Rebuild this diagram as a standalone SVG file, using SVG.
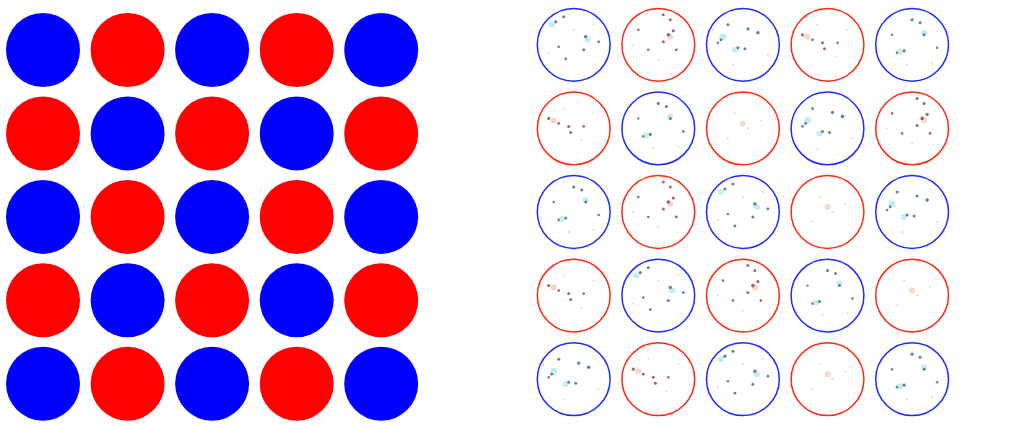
<svg xmlns="http://www.w3.org/2000/svg" width="1011" height="426" viewBox="0 0 1011 426">
<defs>
<style>
.fb{fill:#0000ff}
.fr{fill:#ff0000}
.ob{fill:none;stroke:#1a2cff;stroke-width:1.5}
.or{fill:none;stroke:#ff2a10;stroke-width:1.5}
.dt{fill:#2b5f6b;opacity:.75}
.ct{fill:#6fd3df;opacity:.4}
.dr{fill:#7a2a2a;opacity:.7}
.lr{fill:#e4a07a;opacity:.4}
.gs{fill:#8a9a9a;opacity:.35}
</style>
<g id="spB1">
<circle class="ct" cx="-22" cy="-20" r="3"/><circle class="dt" cx="-18" cy="-23" r="1.6"/><circle class="dt" cx="-10" cy="-28" r="1.5"/>
<circle class="dt" cx="12" cy="-8" r="1.8"/><circle class="ct" cx="14" cy="-5" r="3"/><circle class="dt" cx="25" cy="-3" r="1.4"/>
<circle class="dt" cx="-15" cy="2" r="1.3"/><circle class="dt" cx="10" cy="5" r="1.5"/><circle class="dt" cx="-8" cy="14" r="1.4"/>
<circle class="gs" cx="0" cy="-15" r="1"/><circle class="gs" cx="-25" cy="8" r="1"/><circle class="gs" cx="20" cy="-20" r="1"/>
</g>
<g id="spB2">
<circle class="dt" cx="-15" cy="-20" r="1.5"/><circle class="ct" cx="-20" cy="-8" r="3.5"/><circle class="dt" cx="-22" cy="-5" r="1.4"/>
<circle class="dt" cx="5" cy="-16" r="1.6"/><circle class="dt" cx="15" cy="-12" r="1.8"/><circle class="ct" cx="-8" cy="5" r="3"/>
<circle class="dt" cx="-5" cy="3" r="1.5"/><circle class="dt" cx="2" cy="4" r="1.5"/><circle class="dt" cx="-25" cy="-2" r="1.3"/>
<circle class="gs" cx="-10" cy="20" r="1"/><circle class="gs" cx="25" cy="10" r="1"/><circle class="gs" cx="-30" cy="-15" r="1"/>
</g>
<g id="spB3">
<circle class="dt" cx="0" cy="-25" r="1.6"/><circle class="dt" cx="8" cy="-22" r="1.5"/><circle class="ct" cx="12" cy="-12" r="3"/>
<circle class="dt" cx="12" cy="-10" r="1.5"/><circle class="dt" cx="-15" cy="8" r="1.4"/><circle class="dt" cx="-8" cy="6" r="1.6"/>
<circle class="ct" cx="-12" cy="7" r="3"/><circle class="dt" cx="25" cy="3" r="1.3"/><circle class="dt" cx="-20" cy="-10" r="1.2"/>
<circle class="gs" cx="-5" cy="20" r="1"/><circle class="gs" cx="20" cy="18" r="1"/>
</g>
<g id="spR1">
<circle class="dr" cx="5" cy="-30" r="1.5"/><circle class="dr" cx="12" cy="-25" r="1.5"/><circle class="lr" cx="12" cy="-8" r="3"/>
<circle class="dr" cx="10" cy="-10" r="1.8"/><circle class="dr" cx="15" cy="-14" r="1.6"/><circle class="dr" cx="5" cy="-3" r="1.5"/>
<circle class="dr" cx="-20" cy="-15" r="1.3"/><circle class="dr" cx="-10" cy="5" r="1.3"/><circle class="dr" cx="18" cy="5" r="1.4"/>
<circle class="gs" cx="0" cy="15" r="1"/><circle class="gs" cx="-25" cy="0" r="1"/>
</g>
<g id="spR2">
<circle class="dr" cx="-25" cy="-10" r="1.6"/><circle class="lr" cx="-20" cy="-8" r="3"/><circle class="dr" cx="-15" cy="-5" r="1.4"/>
<circle class="dr" cx="-5" cy="-2" r="1.5"/><circle class="dr" cx="-3" cy="4" r="1.5"/><circle class="dr" cx="10" cy="-2" r="1.3"/>
<circle class="gs" cx="-10" cy="-20" r="1"/><circle class="gs" cx="8" cy="12" r="1"/><circle class="gs" cx="20" cy="-15" r="1"/>
</g>
<g id="spR3">
<circle class="gs" cx="-8" cy="-15" r="1"/><circle class="gs" cx="5" cy="0" r="1.1"/><circle class="lr" cx="0" cy="-5" r="3"/>
<circle class="gs" cx="-15" cy="10" r="1"/><circle class="gs" cx="18" cy="-8" r="1"/>
</g>
</defs>
<rect width="1011" height="426" fill="#ffffff"/>
<g id="left-grid">
<circle class="fb" cx="43" cy="50" r="37"/><circle class="fr" cx="127.6" cy="50" r="37"/><circle class="fb" cx="212.1" cy="50" r="37"/><circle class="fr" cx="296.7" cy="50" r="37"/><circle class="fb" cx="381.2" cy="50" r="37"/>
<circle class="fr" cx="43" cy="133.4" r="37"/><circle class="fb" cx="127.6" cy="133.4" r="37"/><circle class="fr" cx="212.1" cy="133.4" r="37"/><circle class="fb" cx="296.7" cy="133.4" r="37"/><circle class="fr" cx="381.2" cy="133.4" r="37"/>
<circle class="fb" cx="43" cy="216.9" r="37"/><circle class="fr" cx="127.6" cy="216.9" r="37"/><circle class="fb" cx="212.1" cy="216.9" r="37"/><circle class="fr" cx="296.7" cy="216.9" r="37"/><circle class="fb" cx="381.2" cy="216.9" r="37"/>
<circle class="fr" cx="43" cy="300.3" r="37"/><circle class="fb" cx="127.6" cy="300.3" r="37"/><circle class="fr" cx="212.1" cy="300.3" r="37"/><circle class="fb" cx="296.7" cy="300.3" r="37"/><circle class="fr" cx="381.2" cy="300.3" r="37"/>
<circle class="fb" cx="43" cy="383.7" r="37"/><circle class="fr" cx="127.6" cy="383.7" r="37"/><circle class="fb" cx="212.1" cy="383.7" r="37"/><circle class="fr" cx="296.7" cy="383.7" r="37"/><circle class="fb" cx="381.2" cy="383.7" r="37"/>
</g>
<g id="right-speckles">
<use href="#spB1" x="573.7" y="44.8"/><use href="#spR1" x="658.3" y="44.8"/><use href="#spB2" x="742.9" y="44.8"/><use href="#spR2" x="827.5" y="44.8"/><use href="#spB3" x="912.1" y="44.8"/>
<use href="#spR2" x="573.7" y="128.4"/><use href="#spB3" x="658.3" y="128.4"/><use href="#spR3" x="742.9" y="128.4"/><use href="#spB2" x="827.5" y="128.4"/><use href="#spR1" x="912.1" y="128.4"/>
<use href="#spB3" x="573.7" y="212"/><use href="#spR1" x="658.3" y="212"/><use href="#spB1" x="742.9" y="212"/><use href="#spR3" x="827.5" y="212"/><use href="#spB2" x="912.1" y="212"/>
<use href="#spR2" x="573.7" y="295.6"/><use href="#spB1" x="658.3" y="295.6"/><use href="#spR1" x="742.9" y="295.6"/><use href="#spB3" x="827.5" y="295.6"/><use href="#spR3" x="912.1" y="295.6"/>
<use href="#spB2" x="573.7" y="379.2"/><use href="#spR2" x="658.3" y="379.2"/><use href="#spB1" x="742.9" y="379.2"/><use href="#spR3" x="827.5" y="379.2"/><use href="#spB3" x="912.1" y="379.2"/>
</g>
<g id="right-grid">
<circle class="ob" cx="573.7" cy="44.8" r="36.4"/><circle class="or" cx="658.3" cy="44.8" r="36.4"/><circle class="ob" cx="742.9" cy="44.8" r="36.4"/><circle class="or" cx="827.5" cy="44.8" r="36.4"/><circle class="ob" cx="912.1" cy="44.8" r="36.4"/>
<circle class="or" cx="573.7" cy="128.4" r="36.4"/><circle class="ob" cx="658.3" cy="128.4" r="36.4"/><circle class="or" cx="742.9" cy="128.4" r="36.4"/><circle class="ob" cx="827.5" cy="128.4" r="36.4"/><circle class="or" cx="912.1" cy="128.4" r="36.4"/>
<circle class="ob" cx="573.7" cy="212" r="36.4"/><circle class="or" cx="658.3" cy="212" r="36.4"/><circle class="ob" cx="742.9" cy="212" r="36.4"/><circle class="or" cx="827.5" cy="212" r="36.4"/><circle class="ob" cx="912.1" cy="212" r="36.4"/>
<circle class="or" cx="573.7" cy="295.6" r="36.4"/><circle class="ob" cx="658.3" cy="295.6" r="36.4"/><circle class="or" cx="742.9" cy="295.6" r="36.4"/><circle class="ob" cx="827.5" cy="295.6" r="36.4"/><circle class="or" cx="912.1" cy="295.6" r="36.4"/>
<circle class="ob" cx="573.7" cy="379.2" r="36.4"/><circle class="or" cx="658.3" cy="379.2" r="36.4"/><circle class="ob" cx="742.9" cy="379.2" r="36.4"/><circle class="or" cx="827.5" cy="379.2" r="36.4"/><circle class="ob" cx="912.1" cy="379.2" r="36.4"/>
</g>
</svg>
